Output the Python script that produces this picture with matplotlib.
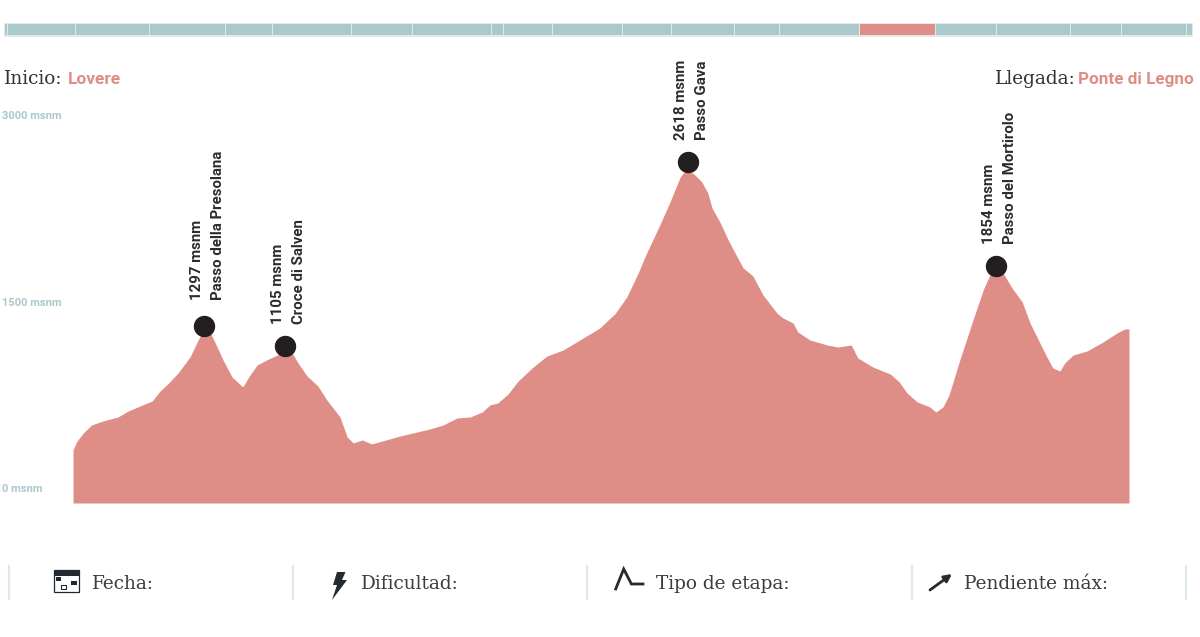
import matplotlib
matplotlib.use('Agg')
import matplotlib.pyplot as plt
from matplotlib.patches import Rectangle, Polygon

# perfil de la etapa
km = [0, 0.6, 1.7, 3.1, 5, 7.5, 9.2, 11.2, 13.2, 14.5, 15.8, 17.5, 19.5, 20.7, 21.7, 22.5, 23.7, 25, 26.5, 28.3,
      29.5, 30.7, 32.3, 34.8, 36.5, 37.5, 39, 40.8, 42.3, 44.5, 45.7, 46.7, 48.2, 49.8, 54.5, 59.5, 61.7, 64, 66.2,
      68.2, 69.5, 70.8, 72.5, 74.2, 76.5, 79, 81.7, 84.5, 87.8, 89.2, 90.3, 92.3, 94.2, 95.3, 97.8, 99.5, 101.2,
      102, 103.3, 104.8, 105.8, 106.5, 107.8, 109.2, 110.7, 111.7, 113.3, 115, 117.3, 118.3, 120, 120.8, 122.8,
      125.7, 127.5, 129.7, 130.8, 133.3, 136.2, 137.7, 139, 140.7, 142.8, 143.8, 145, 146, 147.8, 150, 151.7,
      152.8, 155, 156.5, 158.2, 159.5, 162.3, 163.3, 164.5, 165.3, 166.7, 169, 171.7, 174, 175.3, 176]
altura = [306, 372, 442, 507, 539, 571, 619, 660, 700, 780, 837, 925, 1054, 1175, 1271, 1287, 1167, 1030, 893, 813,
          909, 990, 1030, 1086, 1086, 1006, 901, 821, 708, 571, 410, 362, 386, 354, 418, 475, 507, 563, 571,
          611, 668, 684, 756, 861, 965, 1062, 1110, 1191, 1287, 1352, 1400, 1537, 1730, 1858, 2116, 2301, 2502,
          2550, 2534, 2462, 2373, 2253, 2140, 1995, 1858, 1770, 1706, 1553, 1408, 1368, 1327, 1255, 1191,
          1150, 1134, 1150, 1046, 973, 917, 853, 764, 692, 652, 611, 652, 748, 1030, 1352, 1593,
          1714, 1730, 1609, 1496, 1327, 1054, 965, 941, 1006, 1070, 1102, 1175, 1247, 1279, 1279]

# puertos
puerto_km = [21.8, 35.3, 102.5, 153.8]
puerto_alt = [1303, 1142, 2622, 1786]
puerto_msnm = ['1297 msnm', '1105 msnm', '2618 msnm', '1854 msnm']
puerto_nombre = ['Passo della Presolana', 'Croce di Salven', 'Passo Gava', 'Passo del Mortirolo']

ticks_alt = [0, 1500, 3000]
ticks_txt = ['0 msnm', '1500 msnm', '3000 msnm']

# tramos de la barra superior
tramos = [4.6, 7, 75.4, 149, 225.8, 272.9, 351, 412.5, 491, 503.6, 552.6, 622, 671.6, 734.7, 779, 859.5, 935, 996,
          1070, 1121, 1186, 1192]
tramo_activo = 15

ROJO = '#df8e87'
VERDE = '#a9c9ca'
OSCURO = '#1f2730'
SERIF = ['DejaVu Serif']
NARROW = ['Roboto', 'DejaVu Sans']

fig = plt.figure(figsize=(12, 6.37), dpi=100, facecolor='white')

# capa en pixeles para barra, textos e iconos
ov = fig.add_axes([0, 0, 1, 1])
ov.set_xlim(0, 1200)
ov.set_ylim(637, 0)
ov.axis('off')

# grafico principal
ax = fig.add_axes([73 / 1200, (637 - 503) / 637, 1056 / 1200, 403 / 637])
ax.patch.set_alpha(0)
ax.set_xlim(0, 176)
ax.set_ylim(-121, 3121)
for s in ax.spines.values():
    s.set_visible(False)
ax.fill_between(km, altura, -121, color=ROJO, lw=0)
ax.set_xticks([])
ax.set_yticks(ticks_alt)
ax.set_yticklabels(ticks_txt, family=NARROW, color=VERDE, fontsize=8, ha='left', weight='bold')
ax.tick_params(axis='y', length=0, pad=51)

ax.scatter(puerto_km, puerto_alt, s=207, color='#231f20', zorder=5, clip_on=False)
for k, a, m, n, dy in zip(puerto_km, puerto_alt, puerto_msnm, puerto_nombre, [19, 16, 16, 16]):
    ax.annotate(m, (k, a), xytext=(-5, dy), textcoords='offset points', rotation=90, ha='center', va='bottom',
                family=NARROW, fontsize=10.8, color='#2a2d30', weight='bold')
    ax.annotate(n, (k, a), xytext=(10.2, dy), textcoords='offset points', rotation=90, ha='center', va='bottom',
                family=NARROW, fontsize=10.8, color='#2a2d30', weight='bold')

# barra superior
ov.add_patch(Rectangle((4, 22.5), 1189, 14, color='#dfe9e9', lw=0))
for i in range(len(tramos) - 1):
    ini = tramos[i]
    fin = tramos[i + 1]
    col = ROJO if i == tramo_activo else VERDE
    ov.add_patch(Rectangle((ini + 0.5, 24), fin - ini - 1, 11, color=col, lw=0))

# inicio y llegada
ov.text(4, 84, 'Inicio:', family=SERIF, fontsize=13.3, color='#333333')
ov.text(68, 84, 'Lovere', family=NARROW, fontsize=12.5, color=ROJO, weight='bold')
ov.text(1076, 84, 'Llegada:', family=SERIF, fontsize=13.3, color='#333333', ha='right')
ov.text(1194, 84, 'Ponte di Legno', family=NARROW, fontsize=12.3, color=ROJO, weight='bold', ha='right')

# pie
for x in [8.5, 293, 587, 912, 1186]:
    ov.plot([x, x], [566, 599], color='#dfe8e8', lw=1.6)
for x, t in zip([92, 361, 656, 964], ['Fecha:', 'Dificultad:', 'Tipo de etapa:', 'Pendiente máx:']):
    ov.text(x, 589, t, family=SERIF, fontsize=13.3, color='#3c3c3c')

# iconos
ov.add_patch(Rectangle((53.5, 569.5), 25, 22.5, fc='white', ec=OSCURO, lw=0.9))
ov.add_patch(Rectangle((53.5, 569.5), 25, 6, color=OSCURO, lw=0))
ov.add_patch(Rectangle((56, 577), 5, 4, color=OSCURO, lw=0))
ov.add_patch(Rectangle((71, 581), 5.5, 4, color=OSCURO, lw=0))
ov.add_patch(Rectangle((60.5, 585), 5, 4, fc='white', ec=OSCURO, lw=0.8))
ov.add_patch(Polygon([(337, 572), (345.5, 572), (342, 580), (347, 580), (332, 600), (337, 585), (333, 585)],
                     closed=True, color='#262b30', lw=0))
ov.plot([615.7, 623.7, 631.4, 643], [589, 569, 584, 584], color='#262b30', lw=2, solid_joinstyle='miter')
ov.annotate('', xy=(952, 574), xytext=(930, 590),
            arrowprops=dict(arrowstyle='-|>', color='#262b30', lw=2, mutation_scale=11, shrinkA=0, shrinkB=0))

fig.savefig('out.png', dpi=100)
